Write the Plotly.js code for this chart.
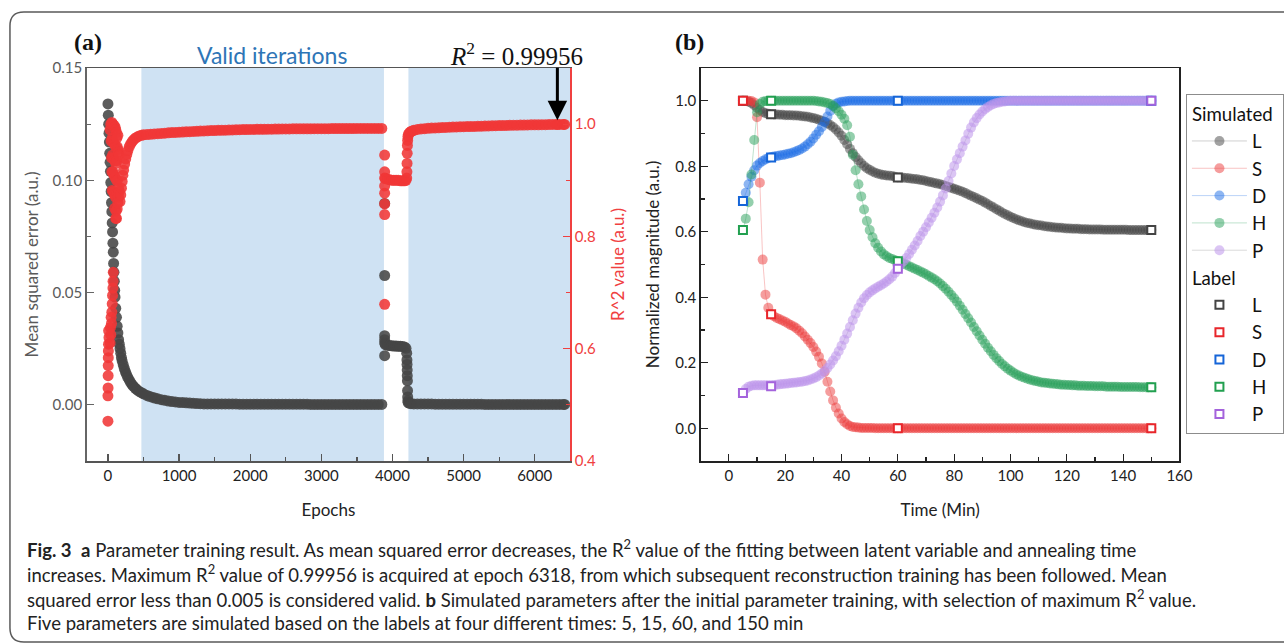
<!DOCTYPE html>
<html>
<head>
<meta charset="utf-8">
<script src="https://cdn.plot.ly/plotly-3.0.1.min.js"></script>
<style>html,body{margin:0;padding:0;background:#fff;}#chart{width:1284px;height:643px;}</style>
</head>
<body>
<div id="chart"></div>
<script>
// ---------------- Panel (a): training history ----------------
const mseEpochs = [0,5,10,15,20,25,30,35,40,45,50,55,60,65,70,75,80,85,90,95,100,110,120,130,140,150,160,170,180,190,200,215,230,245,260,280,300,320,340,360,385,410,440,470,500,540,580,620,660,700,750,800,850,900,950,1000,1050,1100,1150,1200,1250,1300,
1350,1400,1450,1500,1550,1600,1650,1700,1750,1800,1850,1900,1950,2000,2050,2100,2150,2200,2250,2300,2350,2400,2450,2500,2550,2600,2650,2700,2750,2800,2850,2900,2950,3000,3050,3100,3150,3200,3250,3300,3350,3400,3450,3500,3550,3600,3650,3700,3750,3800,3850,
3890,3890,3890,3890,3890,3890,
3900,3930,3960,3990,4020,4050,4080,4110,4140,4170,4190,
4200,4203,4205,4207,4208,4210,4212,4214,4216,4220,4240,4260,
4300,4350,4400,4450,4500,4550,4600,4650,4700,4750,4800,4850,4900,4950,5000,5050,5100,5150,5200,5250,5300,5350,5400,5450,5500,5550,5600,5650,5700,5750,5800,5850,5900,5950,6000,6050,6100,6150,6200,6250,6300,6350,6400,6420];
const mseValues = [0.134,0.129,0.125,0.121,0.117,0.112,0.108,0.104,0.099,0.095,0.090,0.086,0.081,0.077,0.072,0.068,0.063,0.059,0.055,0.051,0.048,0.043,0.039,0.035,0.032,0.029,0.027,0.025,0.023,0.021,0.0195,0.0178,0.0162,0.0148,0.0136,0.0122,0.0110,0.0099,0.0090,0.0082,0.0074,0.0067,0.0060,0.0054,0.0049,0.0043,0.0038,0.0034,0.0030,0.0027,0.0023,0.0020,0.0017,0.0015,0.0013,0.0011,0.0010,0.0009,0.0008,0.0007,0.0006,0.0005,
0.0004,0.0004,0.0004,0.0004,0.0004,0.0004,0.0004,0.0004,0.0004,0.0004,0.0003,0.0003,0.0003,0.0003,0.0003,0.0003,0.0003,0.0003,0.0003,0.0003,0.0003,0.0003,0.0003,0.0003,0.0003,0.0003,0.0003,0.0003,0.0003,0.0003,0.0002,0.0002,0.0002,0.0002,0.0002,0.0002,0.0002,0.0002,0.0002,0.0002,0.0002,0.0002,0.0002,0.0002,0.0002,0.0002,0.0002,0.0002,0.0002,0.0002,0.0002,
0.0897,0.0576,0.0308,0.0290,0.0275,0.0219,
0.0268,0.0265,0.0264,0.0263,0.0262,0.0262,0.0261,0.0261,0.0260,0.0258,0.0252,
0.0230,0.0200,0.0180,0.0155,0.0130,0.0107,0.0063,0.0035,0.0018,0.0010,0.0007,0.0005,
0.0004,0.0004,0.0004,0.0004,0.0004,0.0004,0.0003,0.0003,0.0003,0.0003,0.0003,0.0003,0.0003,0.0003,0.0003,0.0003,0.0003,0.0003,0.0003,0.0003,0.0002,0.0002,0.0002,0.0002,0.0002,0.0002,0.0002,0.0002,0.0002,0.0002,0.0002,0.0002,0.0002,0.0002,0.0002,0.0002,0.0002,0.0002,0.0002,0.0002,0.0002,0.0002,0.0002,0.0002];

const r2Epochs = [0,0,2,3,4,5,6,8,15,10,35,45,60,70,75,30,40,50,55,65,72,
30,40,55,70,85,100,110,120,45,60,75,90,105,50,65,80,95,110,125,55,70,85,100,120,135,60,75,90,105,130,150,160,95,115,130,110,120,140,150,130,140,150,160,140,125,
170,180,190,200,210,220,235,250,265,280,300,320,340,360,385,410,440,470,500,
550,600,650,700,750,800,850,900,950,1000,1050,1100,1150,1200,1250,1300,1350,1400,1450,1500,1550,1600,1650,1700,1750,1800,1850,1900,1950,2000,
2050,2100,2150,2200,2250,2300,2350,2400,2450,2500,2550,2600,2650,2700,2750,2800,2850,2900,2950,3000,3050,3100,3150,3200,3250,3300,3350,3400,3450,3500,3550,3600,3650,3700,3750,3800,3850,
3890,3890,3890,3890,3890,3890,3890,3890,
3900,3930,3960,3990,4020,4050,4080,4110,4140,4170,4190,
4200,4203,4205,4207,4210,4213,4218,4225,4240,4260,4280,4300,4350,4400,4450,4500,
4550,4600,4650,4700,4750,4800,4850,4900,4950,5000,5050,5100,5150,5200,5250,5300,5350,5400,5450,5500,5550,5600,5650,5700,5750,5800,5850,5900,5950,6000,6050,6100,6150,6200,6250,6300,6318,6350,6400,6420];
const r2Values = [0.471,0.516,0.530,0.552,0.570,0.584,0.596,0.608,0.620,0.632,0.638,0.656,0.680,0.708,0.736,0.610,0.625,0.645,0.665,0.695,0.720,
0.990,1.000,1.003,1.000,0.998,0.995,0.990,0.985,0.970,0.975,0.970,0.965,0.960,0.940,0.945,0.940,0.935,0.930,0.935,0.915,0.915,0.910,0.905,0.900,0.900,0.882,0.880,0.875,0.870,0.876,0.885,0.880,0.850,0.845,0.849,0.832,0.832,0.860,0.870,0.960,0.955,0.950,0.945,0.980,0.975,
0.862,0.874,0.886,0.898,0.909,0.918,0.929,0.938,0.946,0.953,0.960,0.965,0.969,0.972,0.975,0.977,0.979,0.980,0.981,
0.9815,0.982,0.9825,0.983,0.9835,0.984,0.9845,0.985,0.9853,0.9856,0.986,0.9863,0.9866,0.987,0.9873,0.9876,0.9879,0.9882,0.9885,0.9887,0.9889,0.9891,0.9893,0.9895,0.9897,0.9899,0.9901,0.9903,0.9904,0.9905,
0.9906,0.9907,0.9908,0.9909,0.991,0.9911,0.9912,0.9913,0.9914,0.9915,0.9915,0.9916,0.9916,0.9917,0.9917,0.9918,0.9918,0.9919,0.9919,0.992,0.992,0.992,0.9921,0.9921,0.9921,0.9922,0.9922,0.9922,0.9922,0.9923,0.9923,0.9923,0.9923,0.9924,0.9924,0.9924,0.9924,
0.945,0.915,0.904,0.890,0.877,0.858,0.839,0.679,
0.903,0.902,0.901,0.900,0.900,0.900,0.900,0.899,0.899,0.899,0.900,
0.904,0.915,0.930,0.948,0.962,0.971,0.978,0.982,0.985,0.987,0.988,0.989,0.9905,0.9915,0.992,0.9925,
0.993,0.9933,0.9936,0.9939,0.9942,0.9945,0.9948,0.995,0.9952,0.9954,0.9956,0.9958,0.996,0.9962,0.9964,0.9966,0.9968,0.997,0.9972,0.9974,0.9976,0.9978,0.998,0.9981,0.9982,0.9984,0.9985,0.9986,0.9987,0.9988,0.9989,0.999,0.9991,0.9993,0.9994,0.9995,0.99956,0.9995,0.9995,0.9995];

const validRanges = [[470, 3880], [4224, 6500]];
const bestEpoch = 6318;
const bestR2 = 0.99956;

// ---------------- Panel (b): simulated parameters ----------------
const simTime = [5,6,7,8,9,10,11,12,13,14,15,16,17,18,19,20,21,22,23,24,25,26,27,28,29,30,31,32,33,34,35,36,37,38,39,40,41,42,43,44,45,46,47,48,49,50,51,52,53,54,55,56,57,58,59,60,61,62,63,64,65,66,67,68,69,70,71,72,73,74,75,76,77,78,79,80,81,82,83,84,85,86,87,88,89,90,91,92,93,94,95,96,97,98,99,100,101,102,103,104,105,106,107,108,109,110,111,112,113,114,115,116,117,118,119,120,121,122,123,124,125,126,127,128,129,130,131,132,133,134,135,136,137,138,139,140,141,142,143,144,145,146,147,148,149,150];
const simL = [1.000,0.999,0.997,0.993,0.986,0.978,0.972,0.966,0.962,0.960,
0.959,0.958,0.958,0.957,0.957,0.956,0.956,0.956,0.955,0.955,
0.954,0.953,0.952,0.951,0.949,0.947,0.945,0.942,0.939,0.936,
0.931,0.926,0.920,0.912,0.903,0.893,0.880,0.867,0.853,0.840,
0.828,0.818,0.809,0.801,0.794,0.789,0.784,0.780,0.777,0.775,
0.773,0.772,0.771,0.770,0.768,0.766,0.766,0.765,0.764,0.763,
0.762,0.761,0.760,0.758,0.757,0.755,0.753,0.751,0.749,0.747,
0.745,0.743,0.740,0.737,0.734,0.731,0.728,0.725,0.722,0.718,
0.714,0.710,0.706,0.702,0.698,0.694,0.689,0.684,0.679,0.674,
0.669,0.664,0.659,0.654,0.650,0.646,0.642,0.638,0.635,0.632,
0.629,0.627,0.625,0.623,0.621,0.620,0.619,0.617,0.616,0.615,
0.614,0.613,0.612,0.612,0.611,0.610,0.610,0.609,0.609,0.609,
0.608,0.608,0.608,0.607,0.607,0.607,0.607,0.607,0.606,0.606,
0.606,0.606,0.606,0.606,0.606,0.606,0.606,0.605,0.605,0.605,
0.605,0.605,0.605,0.605,0.605,0.605];
const simS = [1.000,1.000,1.000,0.999,0.995,0.950,0.750,0.515,0.408,0.368,
0.348,0.342,0.337,0.333,0.329,0.325,0.320,0.315,0.311,0.305,
0.298,0.290,0.280,0.270,0.260,0.248,0.234,0.218,0.198,0.172,
0.142,0.112,0.085,0.063,0.045,0.030,0.019,0.012,0.007,0.004,
0.003,0.002,0.001,0.001,0.001,0.001,0.001,0.000,0.000,0.000,
0,0,0,0,0,0,0,0,0,0, 0,0,0,0,0,0,0,0,0,0, 0,0,0,0,0,0,0,0,0,0,
0,0,0,0,0,0,0,0,0,0, 0,0,0,0,0,0,0,0,0,0, 0,0,0,0,0,0,0,0,0,0,
0,0,0,0,0,0,0,0,0,0, 0,0,0,0,0,0,0,0,0,0, 0,0,0,0,0,0,0,0,0,0,
0,0,0,0,0,0];
const simD = [0.694,0.719,0.745,0.768,0.788,0.802,0.810,0.816,0.821,0.825,
0.828,0.830,0.831,0.833,0.834,0.836,0.838,0.840,0.843,0.846,
0.850,0.854,0.860,0.867,0.875,0.885,0.896,0.907,0.920,0.935,
0.952,0.969,0.983,0.991,0.995,0.997,0.998,0.999,1.000,1.000,
1,1,1,1,1,1,1,1,1,1, 1,1,1,1,1,1,1,1,1,1, 1,1,1,1,1,1,1,1,1,1,
1,1,1,1,1,1,1,1,1,1, 1,1,1,1,1,1,1,1,1,1, 1,1,1,1,1,1,1,1,1,1,
1,1,1,1,1,1,1,1,1,1, 1,1,1,1,1,1,1,1,1,1, 1,1,1,1,1,1,1,1,1,1,
1,1,1,1,1,1,1,1,1,1, 1,1,1,1,1,1];
const simH = [0.605,0.640,0.690,0.775,0.880,0.965,0.990,0.997,0.999,1.000,
1.000,1.000,1.000,1.000,1.000,1.000,1.000,1.000,1.000,1.000,
1.000,1.000,1.000,1.000,1.000,1.000,0.999,0.998,0.997,0.995,
0.993,0.990,0.985,0.977,0.968,0.957,0.945,0.925,0.890,0.835,
0.788,0.745,0.708,0.668,0.633,0.605,0.583,0.565,0.551,0.540,
0.531,0.525,0.520,0.517,0.513,0.510,0.507,0.503,0.499,0.495,
0.491,0.487,0.483,0.479,0.475,0.470,0.465,0.460,0.455,0.449,
0.442,0.434,0.426,0.417,0.407,0.397,0.386,0.374,0.362,0.349,
0.336,0.323,0.309,0.296,0.283,0.270,0.258,0.246,0.235,0.224,
0.214,0.205,0.196,0.189,0.182,0.176,0.170,0.165,0.161,0.157,
0.154,0.151,0.148,0.146,0.144,0.142,0.140,0.139,0.138,0.137,
0.136,0.135,0.134,0.133,0.133,0.132,0.132,0.131,0.131,0.130,
0.130,0.130,0.129,0.129,0.129,0.128,0.128,0.128,0.128,0.127,
0.127,0.127,0.127,0.127,0.126,0.126,0.126,0.126,0.126,0.126,
0.126,0.125,0.125,0.125,0.125,0.125];
const simP = [0.108,0.120,0.127,0.130,0.131,0.131,0.131,0.131,0.131,0.131,
0.131,0.132,0.133,0.134,0.135,0.136,0.137,0.138,0.139,0.140,
0.141,0.142,0.144,0.146,0.149,0.152,0.156,0.161,0.167,0.175,
0.184,0.195,0.207,0.220,0.235,0.252,0.270,0.289,0.309,0.330,
0.350,0.368,0.384,0.397,0.407,0.415,0.421,0.427,0.432,0.437,
0.442,0.448,0.455,0.463,0.474,0.487,0.500,0.510,0.520,0.532,
0.545,0.558,0.572,0.587,0.600,0.614,0.628,0.643,0.658,0.674,
0.692,0.711,0.732,0.755,0.778,0.801,0.821,0.840,0.860,0.879,
0.899,0.918,0.934,0.947,0.958,0.967,0.975,0.981,0.986,0.990,
0.993,0.995,0.997,0.998,0.999,1.000,1.000,1.000,1.000,1.000,
1,1,1,1,1,1,1,1,1,1, 1,1,1,1,1,1,1,1,1,1, 1,1,1,1,1,1,1,1,1,1,
1,1,1,1,1,1,1,1,1,1, 1,1,1,1,1,1];

const labelTime = [5, 15, 60, 150];
const labelL = [1.000, 0.959, 0.766, 0.605];
const labelS = [1.000, 0.348, 0.000, 0.000];
const labelD = [0.694, 0.827, 1.000, 1.000];
const labelH = [0.605, 1.000, 0.510, 0.125];
const labelP = [0.108, 0.128, 0.487, 1.000];

const paramNames = ['L', 'S', 'D', 'H', 'P'];
const simSeries = [simL, simS, simD, simH, simP];
const labelSeries = [labelL, labelS, labelD, labelH, labelP];
const simColors = ['rgba(70,70,70,0.5)', 'rgba(235,60,60,0.5)', 'rgba(30,110,230,0.5)', 'rgba(40,160,90,0.5)', 'rgba(190,150,235,0.55)'];
const simLineColors = ['rgba(70,70,70,0.25)', 'rgba(235,60,60,0.3)', 'rgba(30,110,230,0.3)', 'rgba(40,160,90,0.3)', 'rgba(150,150,150,0.35)'];
const labelColors = ['#444444', '#e8262b', '#1565d8', '#22a050', '#a463dc'];

// ---------------- helpers ----------------
const W = 1284, H = 643;
const px = x => x / W;
const py = y => 1 - y / H;
const FONT = 'Lato, "Open Sans", sans-serif';
const LEGEND_FS = 18.7;

const traces = [];
traces.push({
  type: 'scatter', mode: 'markers', x: mseEpochs, y: mseValues, xaxis: 'x', yaxis: 'y',
  marker: {size: 11, color: 'rgba(70,70,70,0.88)', line: {width: 0}}, showlegend: false, hoverinfo: 'skip'
});
traces.push({
  type: 'scatter', mode: 'markers', x: r2Epochs, y: r2Values, xaxis: 'x', yaxis: 'y2',
  marker: {size: 11, color: 'rgba(240,55,55,0.88)', line: {width: 0}}, showlegend: false, hoverinfo: 'skip'
});
paramNames.forEach((n, i) => {
  traces.push({
    type: 'scatter', mode: 'lines+markers', x: simTime, y: simSeries[i], xaxis: 'x2', yaxis: 'y3',
    name: n, legendgroup: 'sim', legendgrouptitle: {text: 'Simulated', font: {family: FONT, size: LEGEND_FS, color: '#111'}},
    marker: {size: 10, color: simColors[i], line: {width: 0}},
    line: {width: 1, color: simLineColors[i]}, hoverinfo: 'skip'
  });
});
paramNames.forEach((n, i) => {
  traces.push({
    type: 'scatter', mode: 'markers', x: labelTime, y: labelSeries[i], xaxis: 'x2', yaxis: 'y3',
    name: n, legendgroup: 'lab', legendgrouptitle: {text: 'Label', font: {family: FONT, size: LEGEND_FS, color: '#111'}},
    marker: {symbol: 'square', size: 8, color: '#ffffff', line: {width: 2, color: labelColors[i]}}, hoverinfo: 'skip'
  });
});

const yDom = [py(461), py(68)];
const tickFont = {family: FONT, size: 15, color: '#222'};
const titleFont = {family: FONT, size: 17, color: '#222'};

const shapes = validRanges.map(r => ({
  type: 'rect', xref: 'x', yref: 'y domain', x0: r[0], x1: r[1], y0: 0, y1: 1,
  fillcolor: '#cfe2f3', line: {width: 0}, layer: 'below'
}));
// figure frame with rounded left corners
shapes.push({
  type: 'path', xref: 'paper', yref: 'paper', layer: 'above',
  path: `M ${px(1300)},${py(12)} L ${px(24)},${py(12)} Q ${px(10)},${py(12)} ${px(10)},${py(26)} L ${px(10)},${py(628)} Q ${px(10)},${py(642)} ${px(24)},${py(642)} L ${px(1300)},${py(642)}`,
  line: {color: '#5a5a5a', width: 1.5}
});

const captionLines = [
  '<b>Fig. 3</b>  <b>a</b> Parameter training result. As mean squared error decreases, the R<sup>2</sup> value of the fitting between latent variable and annealing time',
  'increases. Maximum R<sup>2</sup> value of 0.99956 is acquired at epoch 6318, from which subsequent reconstruction training has been followed. Mean',
  'squared error less than 0.005 is considered valid. <b>b</b> Simulated parameters after the initial parameter training, with selection of maximum R<sup>2</sup> value.',
  'Five parameters are simulated based on the labels at four different times: 5, 15, 60, and 150 min'
];
const captionY = [548, 573, 598, 623];

const annotations = [
  {xref: 'paper', yref: 'paper', x: px(72), y: py(42), xanchor: 'left', yanchor: 'middle', showarrow: false,
   text: '<b>(a)</b>', font: {family: '"Liberation Serif", serif', size: 24, color: '#111'}},
  {xref: 'paper', yref: 'paper', x: px(676), y: py(42), xanchor: 'left', yanchor: 'middle', showarrow: false,
   text: '<b>(b)</b>', font: {family: '"Liberation Serif", serif', size: 24, color: '#111'}},
  {xref: 'paper', yref: 'paper', x: px(273), y: py(55), xanchor: 'center', yanchor: 'middle', showarrow: false,
   text: 'Valid iterations', font: {family: FONT, size: 23, color: '#2e75b6'}},
  {xref: 'paper', yref: 'paper', x: px(519), y: py(54), xanchor: 'center', yanchor: 'middle', showarrow: false,
   text: '<i>R</i><sup>2</sup> = ' + bestR2.toString(), font: {family: '"Liberation Serif", serif', size: 25, color: '#111'}},
  {xref: 'x', yref: 'y2', x: bestEpoch, y: 1.007, ax: 0, ay: -54, axref: 'pixel', ayref: 'pixel', showarrow: true,
   arrowhead: 2, arrowsize: 1.3, arrowwidth: 3, arrowcolor: '#000', text: '', standoff: 0}
];
captionLines.forEach((t, i) => {
  annotations.push({xref: 'paper', yref: 'paper', x: px(25), y: py(captionY[i]), xanchor: 'left', yanchor: 'middle',
    showarrow: false, text: t, font: {family: FONT, size: 18.5, color: '#222'}, align: 'left'});
});

const layout = {
  width: W, height: H, margin: {l: 0, r: 0, t: 0, b: 0},
  paper_bgcolor: '#ffffff', plot_bgcolor: '#ffffff', font: {family: FONT},
  showlegend: true,
  legend: {x: px(1191.5), y: py(94), xanchor: 'left', yanchor: 'top', bgcolor: '#ffffff',
    bordercolor: '#8c8c8c', borderwidth: 1, font: {family: FONT, size: LEGEND_FS, color: '#111'},
    tracegroupgap: 0, itemwidth: 55, itemclick: false},
  xaxis: {domain: [px(87), px(573)], anchor: 'y', range: [-300, 6500], tick0: 0, dtick: 1000,
    ticks: 'inside', ticklen: 7, tickwidth: 1.2, tickcolor: '#555', showline: true, linecolor: '#555', linewidth: 1.5,
    mirror: true, showgrid: false, zeroline: false, tickfont: tickFont,
    minor: {dtick: 500, ticks: 'inside', ticklen: 4, tickcolor: '#555', showgrid: false},
    title: {text: 'Epochs', font: titleFont, standoff: 21}},
  yaxis: {domain: yDom, anchor: 'x', range: [-0.025, 0.15], tick0: 0, dtick: 0.05, tickformat: '.2f',
    ticks: 'inside', ticklen: 7, tickwidth: 1.2, tickcolor: '#666', showline: true, linecolor: '#666', linewidth: 1.5,
    showgrid: false, zeroline: false, tickfont: {family: FONT, size: 15, color: '#5a5a5a'},
    minor: {dtick: 0.025, ticks: 'inside', ticklen: 4, tickcolor: '#666', showgrid: false},
    title: {text: 'Mean squared error (a.u.)', font: {family: FONT, size: 17, color: '#5a5a5a'}, standoff: 9}},
  yaxis2: {overlaying: 'y', side: 'right', anchor: 'x', range: [0.4, 1.1], tick0: 0.4, dtick: 0.2, tickformat: '.1f',
    ticks: 'inside', ticklen: 7, tickwidth: 1.2, tickcolor: '#f04040', showline: true, linecolor: '#f04040', linewidth: 1.5,
    showgrid: false, zeroline: false, tickfont: {family: FONT, size: 15, color: '#f04040'},
    minor: {dtick: 0.1, ticks: 'inside', ticklen: 4, tickcolor: '#f04040', showgrid: false},
    title: {text: 'R^2 value (a.u.)', font: {family: FONT, size: 17, color: '#f04040'}, standoff: 17}},
  xaxis2: {domain: [px(704), px(1185)], anchor: 'y3', range: [-10, 160], tick0: 0, dtick: 20,
    ticks: 'inside', ticklen: 7, tickwidth: 1.2, tickcolor: '#222', showline: true, linecolor: '#222', linewidth: 1.5,
    mirror: true, showgrid: false, zeroline: false, tickfont: tickFont,
    minor: {dtick: 10, ticks: 'inside', ticklen: 4, tickcolor: '#222', showgrid: false},
    title: {text: 'Time (Min)', font: titleFont, standoff: 21}},
  yaxis3: {domain: yDom, anchor: 'x2', range: [-0.1, 1.1], tick0: 0, dtick: 0.2, tickformat: '.1f',
    ticks: 'inside', ticklen: 7, tickwidth: 1.2, tickcolor: '#222', showline: true, linecolor: '#222', linewidth: 1.5,
    mirror: true, showgrid: false, zeroline: false, tickfont: tickFont,
    minor: {dtick: 0.1, ticks: 'inside', ticklen: 4, tickcolor: '#222', showgrid: false},
    title: {text: 'Normalized magnitude (a.u.)', font: titleFont, standoff: 11}},
  shapes: shapes,
  annotations: annotations
};

Plotly.newPlot('chart', traces, layout, {staticPlot: true, displayModeBar: false});
</script>
</body>
</html>
